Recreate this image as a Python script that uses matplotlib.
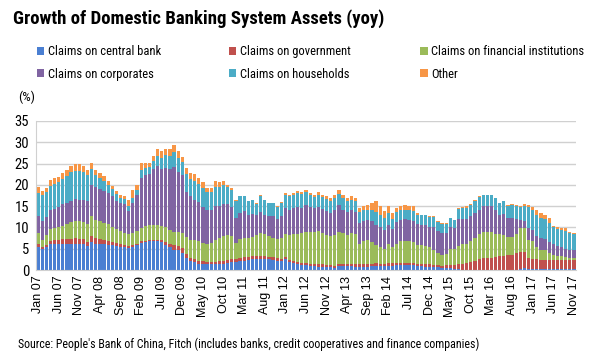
import matplotlib
matplotlib.use("Agg")
import matplotlib.pyplot as plt
from matplotlib import font_manager as fm
import numpy as np

# pick a narrow sans if one is around (reference uses Arial Narrow)
have = set(f.name for f in fm.fontManager.ttflist)
narrow = 'Liberation Sans'
for cand in ['Liberation Sans Narrow', 'Arial Narrow', 'Roboto Condensed', 'PT Sans Narrow',
             'Archivo Narrow', 'Asap Condensed']:
    if cand in have:
        narrow = cand
        break
plt.rcParams['font.family'] = [narrow, 'DejaVu Sans']

months = ['Jan', 'Feb', 'Mar', 'Apr', 'May', 'Jun', 'Jul', 'Aug', 'Sep', 'Oct', 'Nov', 'Dec']
labels = ['%s %02d' % (months[i % 12], 7 + i // 12) for i in range(131)]

central_bank = [5.5, 5.0, 5.3, 6.0, 6.2, 6.1, 6.2, 6.2, 6.2, 6.2, 6.2, 6.1,
                5.6, 6.6, 6.2, 6.0, 6.0, 5.9, 5.8, 5.6, 5.4, 5.3, 5.2, 5.5,
                5.9, 6.3, 6.6, 6.7, 6.8, 6.7, 6.5, 5.9, 5.3, 4.8, 4.6, 4.0,
                2.8, 2.0, 1.8, 1.5, 1.4, 1.3, 1.3, 1.3, 1.4, 1.5, 1.6, 1.8,
                1.8, 2.0, 2.2, 2.3, 2.5, 2.5, 2.6, 2.6, 2.5, 2.4, 2.2, 2.0,
                2.6, 1.8, 1.6, 1.4, 1.2, 1.1, 1.0, 0.9, 0.8, 0.8, 0.7, 0.6,
                0.5, 0.9, 1.0, 0.9, 0.9, 0.8, 0.8, 0.8, 0.8, 0.9, 1.0, 0.9,
                0.9, 1.0, 1.0, 1.1, 1.2, 1.2, 1.2, 1.1, 1.0, 0.9, 0.8, 0.8,
                0.7, 0.6, 0.5, 0.5, 0.4, 0.3, 0.2, -0.2, -0.2, -0.2, -0.2, -0.2,
                -0.2, -0.2, -0.2, -0.2, -0.2, -0.2, -0.2, -0.2, -0.2, 0.3, 0.5, 0.3,
                0.2, 0.2, 0.2, 0.2, 0.2, 0.2, 0.2, 0.2, 0.2, 0.2, 0.2]
government = [0.5, 0.4, 0.5, 0.8, 0.8, 0.9, 1.0, 1.0, 1.1, 1.2, 1.1, 1.2,
              1.0, 1.4, 1.2, 1.2, 1.1, 0.9, 0.8, 0.7, 0.6, 0.5, 0.4, 0.3,
              0.3, 0.4, 0.3, 0.3, 0.3, 0.4, 0.5, 0.7, 0.9, 1.0, 1.0, 1.2,
              1.0, 0.9, 0.8, 0.7, 0.6, 0.5, 0.5, 0.6, 0.6, 0.7, 0.8, 0.8,
              0.7, 0.8, 0.8, 0.8, 0.7, 0.7, 0.6, 0.6, 0.6, 0.6, 0.6, 0.6,
              0.5, 0.5, 0.5, 0.5, 0.5, 0.5, 0.5, 0.5, 0.5, 0.5, 0.5, 0.5,
              0.5, 0.5, 0.5, 0.5, 0.6, 0.6, 0.6, 0.6, 0.6, 0.6, 0.6, 0.6,
              0.6, 0.6, 0.6, 0.5, 0.5, 0.5, 0.5, 0.5, 0.5, 0.5, 0.5, 0.5,
              0.5, 0.5, 0.5, 0.6, 0.7, 0.8, 1.2, 1.5, 1.7, 1.9, 2.2, 2.6,
              2.8, 2.8, 2.8, 3.0, 3.2, 3.3, 3.5, 3.6, 4.0, 4.0, 3.8, 2.6,
              2.5, 2.3, 2.2, 2.2, 2.2, 2.2, 2.2, 2.2, 2.2, 2.2, 2.2]
financial = [2.7, 1.6, 2.5, 2.8, 2.8, 3.0, 3.2, 3.6, 3.9, 4.0, 4.1, 4.0,
             4.2, 4.6, 4.4, 4.2, 4.0, 3.9, 3.6, 3.4, 3.2, 3.0, 2.8, 3.0,
             3.0, 3.2, 3.4, 3.5, 3.4, 3.5, 3.3, 3.4, 3.3, 3.2, 3.3, 3.5,
             4.0, 4.1, 4.4, 4.5, 4.4, 4.2, 4.5, 5.2, 5.5, 5.8, 5.8, 5.5,
             3.8, 4.5, 4.5, 4.3, 4.6, 5.0, 5.5, 5.2, 4.8, 4.6, 4.4, 4.8,
             5.4, 6.0, 6.4, 6.6, 6.9, 7.3, 7.4, 7.6, 7.8, 7.5, 7.0, 6.8,
             7.2, 7.6, 7.3, 6.8, 7.2, 7.0, 4.6, 5.4, 5.6, 5.0, 4.2, 3.8,
             3.5, 4.5, 3.8, 4.6, 5.0, 5.2, 5.0, 4.9, 4.4, 4.4, 4.3, 4.2,
             3.5, 2.8, 2.6, 2.7, 3.8, 3.8, 4.3, 4.5, 4.5, 4.8, 5.2, 5.8,
             6.2, 6.2, 6.2, 5.5, 5.2, 5.0, 4.3, 4.2, 4.5, 5.5, 5.5, 4.2,
             4.0, 2.8, 2.4, 2.2, 1.6, 1.2, 1.0, 0.8, 0.6, 0.5, 0.4]
corporates = [4.0, 4.4, 4.2, 4.4, 4.6, 4.8, 5.0, 5.0, 5.0, 5.2, 5.0, 5.1,
              5.3, 7.4, 7.6, 7.6, 7.5, 7.3, 7.2, 6.6, 6.6, 6.8, 5.4, 7.0,
              8.5, 11.7, 12.0, 12.1, 13.2, 13.8, 13.5, 14.0, 14.2, 15.2, 14.0, 13.5,
              10.5, 10.3, 9.5, 9.2, 8.5, 8.0, 7.8, 8.0, 7.6, 7.5, 7.2, 6.8,
              6.0, 6.0, 6.3, 5.5, 5.4, 4.8, 5.0, 4.6, 4.7, 5.0, 4.8, 5.3,
              6.0, 5.9, 6.1, 6.4, 6.0, 6.3, 5.8, 5.6, 5.8, 5.6, 5.7, 5.4,
              6.0, 6.2, 5.4, 5.5, 5.3, 5.3, 5.0, 4.8, 4.8, 5.0, 4.8, 4.7,
              4.5, 4.4, 4.2, 5.0, 5.0, 5.0, 5.0, 5.0, 4.8, 4.8, 5.0, 4.7,
              5.5, 5.3, 5.2, 5.0, 5.2, 5.0, 6.2, 6.0, 5.8, 6.0, 6.0, 5.7,
              6.1, 6.1, 6.1, 5.5, 4.6, 4.8, 4.5, 4.5, 3.5, 1.9, 1.8, 2.8,
              2.7, 2.7, 2.8, 2.7, 2.6, 2.4, 2.3, 2.1, 1.9, 1.8, 1.8]
households = [5.3, 6.1, 5.8, 5.7, 5.8, 5.8, 5.9, 6.2, 6.7, 6.7, 6.9, 6.5,
              6.1, 3.7, 2.8, 2.6, 2.4, 1.9, 1.6, 1.5, 1.2, 1.0, 1.3, 1.0,
              1.0, 2.0, 1.6, 1.5, 1.8, 2.3, 2.6, 2.9, 3.0, 3.4, 3.5, 3.2,
              4.2, 4.0, 4.3, 4.4, 4.4, 4.3, 4.2, 4.5, 4.5, 4.5, 4.0, 4.0,
              4.0, 4.0, 3.5, 3.2, 3.3, 2.6, 3.6, 3.5, 3.1, 3.1, 2.9, 3.0,
              3.2, 3.1, 3.0, 3.1, 3.2, 3.2, 2.9, 2.6, 2.7, 2.7, 2.7, 2.8,
              2.6, 2.7, 2.6, 2.5, 2.5, 2.4, 2.6, 2.5, 2.4, 2.5, 3.0, 2.8,
              2.6, 2.8, 2.4, 2.4, 2.3, 2.3, 2.3, 2.3, 2.2, 2.2, 2.2, 2.3,
              2.3, 2.1, 2.1, 2.1, 2.0, 1.8, 2.4, 2.5, 2.6, 2.6, 2.9, 3.1,
              2.4, 2.4, 2.4, 2.9, 2.7, 3.0, 2.8, 3.0, 3.0, 3.1, 3.5, 4.8,
              4.6, 5.0, 4.7, 4.6, 4.4, 4.1, 4.0, 4.0, 4.2, 3.9, 3.8]
other = [1.5, 1.0, 1.0, 1.5, 1.4, 1.3, 1.4, 1.6, 1.5, 1.5, 1.5, 1.5,
         1.2, 1.5, 1.2, 1.2, 1.0, 0.9, 0.7, 0.7, 0.7, 0.7, 1.4, 2.1,
         1.3, 1.6, 1.3, 1.1, 1.2, 1.6, 1.5, 1.6, 1.6, 1.7, 1.5, 1.2,
         1.5, 1.5, 1.8, 1.3, 1.3, 1.0, 1.0, 1.2, 1.0, 1.0, 0.6, 0.4,
         0.2, -0.3, -0.3, -0.3, -0.3, 0.2, 0.2, -0.3, -0.3, -0.3, 0.2, 0.2,
         0.4, 0.4, 0.5, 0.5, 0.4, 0.5, 0.5, 0.5, 0.6, 0.6, 0.7, 0.8,
         0.9, 1.0, 0.9, 0.7, 0.8, 0.8, 0.9, 1.0, 1.1, 1.7, 2.5, 2.2,
         1.7, 1.7, 1.4, 0.9, 1.0, 1.1, 1.1, 1.3, 0.5, 0.2, 0.2, 0.2,
         0.1, 0.1, 0.1, 0.1, 0.1, 0.1, 0.2, 0.2, 0.4, 0.3, 0.2, 0.1,
         -0.2, -0.2, -0.2, 0.1, 0.1, 0.1, 0.1, 0.1, 0.3, 0.3, 0.5, 0.6,
         0.8, 1.2, 1.2, 1.1, 1.2, 0.3, 0.4, 0.5, 0.7, 0.4, 0.4]

series = [
    ('Claims on central bank', central_bank, '#4a7fd2'),
    ('Claims on government', government, '#c0504d'),
    ('Claims on financial institutions', financial, '#9bbb59'),
    ('Claims on corporates', corporates, '#8064a2'),
    ('Claims on households', households, '#4bacc6'),
    ('Other', other, '#f79646'),
]

fig = plt.figure(figsize=(6, 3.6), dpi=100)
ax = fig.add_axes([0.06, 0.25, 0.90, 0.414])

x = np.arange(len(labels))
pos_bottom = np.zeros(len(labels))
neg_bottom = np.zeros(len(labels))
handles = []
for name, vals, col in series:
    v = np.array(vals)
    bottom = np.where(v >= 0, pos_bottom, neg_bottom)
    h = ax.bar(x, v, bottom=bottom, width=0.78, color=col, linewidth=0, label=name)
    handles.append(h)
    pos_bottom += np.where(v >= 0, v, 0)
    neg_bottom += np.where(v < 0, v, 0)

ax.set_xlim(-0.5, len(labels) - 0.5)
ax.set_ylim(0, 35)
ax.set_yticks(range(0, 36, 5))
ax.yaxis.grid(True, color='#d0d0d0', linewidth=1)
ax.set_axisbelow(True)
for s in ['top', 'right']:
    ax.spines[s].set_visible(False)
ax.spines['left'].set_color('#d0d0d0')
ax.spines['bottom'].set_color('#d0d0d0')
ax.tick_params(axis='y', length=0, labelsize=10.5, pad=5)
ax.set_xticks(x[::5])
ax.set_xticklabels(labels[::5], rotation=90, fontsize=9, family=['Liberation Sans', 'DejaVu Sans'])
ax.tick_params(axis='x', length=0, pad=4)

# legend: three columns, two rows each, placed by hand
col_x = [0.055, 0.375, 0.694]
for c in range(3):
    idx = [c, c + 3]
    fig.legend([handles[i] for i in idx], [series[i][0] for i in idx],
               loc='upper left', bbox_to_anchor=(col_x[c], 0.885), ncol=1, frameon=False,
               fontsize=9, handlelength=0.6, handleheight=0.6, handletextpad=0.3,
               labelspacing=0.75, borderaxespad=0, borderpad=0.3)

fig.text(0.022, 0.975, 'Growth of Domestic Banking System Assets (yoy)', fontsize=13.5,
         fontweight='bold', va='top')
fig.text(0.03, 0.73, '(%)', fontsize=9.5, va='center')
fig.text(0.03, 0.043, "Source: People's Bank of China, Fitch (includes banks, credit cooperatives and finance companies)",
         fontsize=8.6, va='center')

fig.savefig('out.png', dpi=100)
